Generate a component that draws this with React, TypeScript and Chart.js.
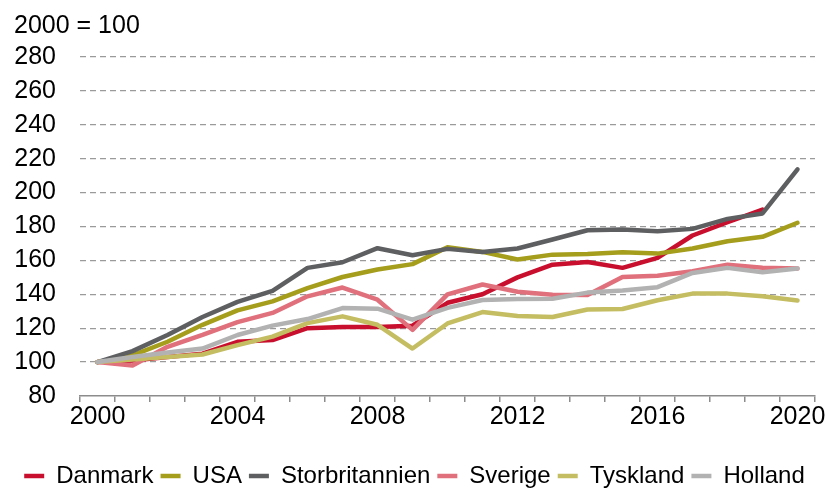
import React, { useEffect, useRef } from "react";
import { Chart, registerables } from "chart.js";

Chart.register(...registerables);

const years = ["2000","2001","2002","2003","2004","2005","2006","2007","2008","2009","2010","2011","2012","2013","2014","2015","2016","2017","2018","2019","2020"];
const labelYears = ["2000","2004","2008","2012","2016","2020"];

const danmark = [100, 101, 103, 105, 112, 113, 120, 120.7, 120.7, 121.5, 135, 140, 150, 157.5, 159, 155.6, 161.5, 174.7, 182.5, 190, null];
const usa = [100, 104, 112, 122, 130.5, 135.8, 143.7, 150.2, 154.6, 157.8, 167.8, 165, 160.5, 163.4, 163.8, 164.8, 164, 167, 171.3, 173.9, 182.2];
const storbritannien = [100, 106.5, 116, 126.6, 135.5, 142, 155.6, 158.9, 167.2, 163, 166.8, 165, 167, 172.3, 177.8, 178.2, 177.2, 178.6, 184.5, 187.7, 213.7];
const sverige = [100, 98, 109, 116, 123.6, 129, 138.8, 144, 136.8, 119, 140, 145.8, 141.5, 139.8, 139.6, 150.2, 151, 153.6, 157.5, 155.6, 155.2];
const tyskland = [100, 101.5, 103, 104.5, 110, 115, 123, 127, 122, 108, 122.8, 129.5, 127.2, 126.6, 131, 131.3, 136.5, 140.4, 140.4, 138.8, 136.4];
const holland = [100, 103, 105.7, 108, 116, 121.5, 125.4, 131.9, 131.5, 125, 132, 136.6, 137.3, 137.4, 141, 142.3, 144.2, 152.6, 155.6, 153, 155.2];

const seriesNames = ["Danmark", "USA", "Storbritannien", "Sverige", "Tyskland", "Holland"];
const seriesValues = [danmark, usa, storbritannien, sverige, tyskland, holland];
const seriesColors = ["#C8102E", "#A59D1C", "#5E5F61", "#E0707B", "#C4BD62", "#B2B2B2"];

const FONT = "'Liberation Sans', Arial, Helvetica, sans-serif";
const FS = 25;

export default function App() {
  const ref = useRef<HTMLCanvasElement | null>(null);

  useEffect(() => {
    document.body.style.margin = "0";
    const canvas = ref.current;
    if (!canvas) return;
    const n = seriesNames.length;
    const chart = new Chart(canvas, {
      type: "line",
      data: {
        labels: years,
        datasets: seriesNames.map((name, i) => ({
          label: name,
          data: seriesValues[i],
          borderColor: seriesColors[i],
          backgroundColor: seriesColors[i],
          borderWidth: 4.5,
          borderCapStyle: "round",
          borderJoinStyle: "round",
          pointRadius: 0,
          pointHoverRadius: 0,
          tension: 0,
          fill: false,
          order: n - i,
        })),
      },
      options: {
        animation: false,
        responsive: true,
        maintainAspectRatio: false,
        layout: { padding: { left: 14, right: 14, top: 0, bottom: -7 } },
        plugins: {
          tooltip: { enabled: false },
          title: {
            display: true,
            text: "2000 = 100",
            align: "start",
            color: "#000",
            font: { family: FONT, size: FS, weight: "normal" },
            padding: { top: 11, bottom: 16 },
          },
          legend: {
            position: "bottom",
            align: "center",
            labels: {
              usePointStyle: true,
              pointStyle: "line",
              pointStyleWidth: 20,
              padding: 7,
              color: "#000",
              font: { family: FONT, size: 24 },
              sort: (a: any, b: any) => a.datasetIndex - b.datasetIndex,
            },
          },
        },
        scales: {
          x: {
            type: "category",
            offset: true,
            afterFit: (scale: any) => {
              scale.height = 61;
            },
            grid: {
              offset: true,
              drawOnChartArea: false,
              drawTicks: true,
              tickLength: 6,
              color: "#8C8C8C",
              lineWidth: 1.5,
            },
            border: { display: true, color: "#8C8C8C", width: 1.5 },
            ticks: {
              autoSkip: false,
              maxRotation: 0,
              minRotation: 0,
              padding: 0,
              color: "#000",
              font: { family: FONT, size: FS },
              callback: (_v: any, i: number) => (labelYears.includes(years[i]) ? years[i] : ""),
            },
          },
          y: {
            min: 80,
            max: 280,
            afterFit: (scale: any) => {
              scale.width = 66;
            },
            ticks: {
              stepSize: 20,
              autoSkip: false,
              padding: 24,
              color: "#000",
              font: { family: FONT, size: FS },
            },
            grid: {
              drawTicks: false,
              color: (ctx: any) => (ctx.tick && ctx.tick.value === 80 ? "rgba(0,0,0,0)" : "#9A9A9A"),
              lineWidth: 1.3,
            },
            border: { display: false, dash: [6, 4] },
          },
        },
      },
    } as any);
    return () => chart.destroy();
  }, []);

  return (
    <div style={{ position: "relative", width: "829px", height: "491px" }}>
      <canvas ref={ref} />
    </div>
  );
}
